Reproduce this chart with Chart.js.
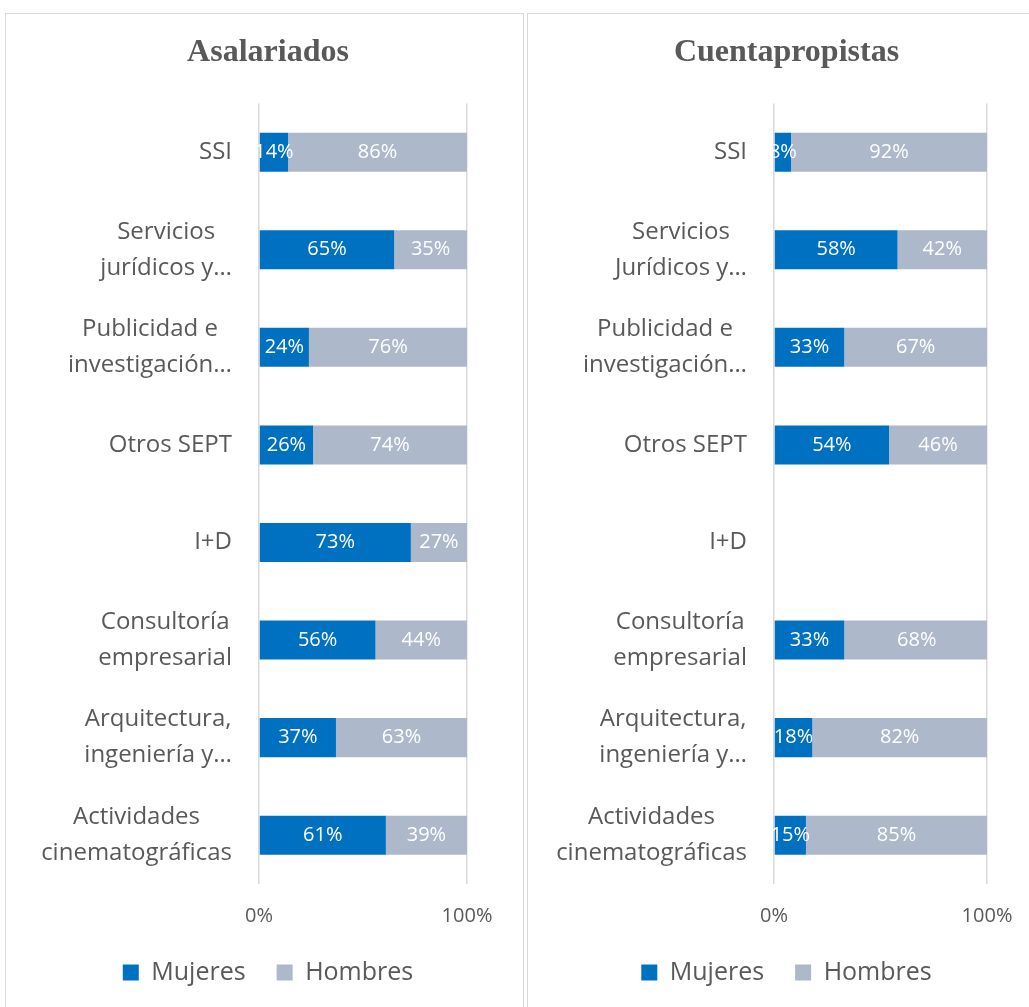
<!DOCTYPE html>
<html>
<head>
<meta charset="utf-8">
<script src="https://cdn.jsdelivr.net/npm/chart.js@4"></script>
<style>
  html, body { margin: 0; padding: 0; background: #fff; overflow: hidden; }
  body { width: 1029px; height: 1007px; position: relative; }
  .panel { position: absolute; top: 13px; width: 517px; height: 1010px; border: 1px solid #D9D9D9; }
  .panel canvas { position: absolute; left: 0; top: 0; }
</style>
</head>
<body>
<div class="panel" style="left:5px;"><canvas id="chartA" width="517" height="993"></canvas></div>
<div class="panel" style="left:527px;"><canvas id="chartC" width="517" height="993"></canvas></div>
<script>
let labelsA = [['SSI'], ['Servicios', 'jurídicos y…'], ['Publicidad e', 'investigación…'], ['Otros SEPT'], ['I+D'], ['Consultoría', 'empresarial'], ['Arquitectura,', 'ingeniería y…'], ['Actividades', 'cinematográficas']];
let labelsC = [['SSI'], ['Servicios', 'Jurídicos y…'], ['Publicidad e', 'investigación…'], ['Otros SEPT'], ['I+D'], ['Consultoría', 'empresarial'], ['Arquitectura,', 'ingeniería y…'], ['Actividades', 'cinematográficas']];
let mujeresA = [14, 65, 24, 26, 73, 56, 37, 61];
let hombresA = [86, 35, 76, 74, 27, 44, 63, 39];
let mujeresC = [8, 58, 33, 54, null, 33, 18, 15];
let hombresC = [92, 42, 67, 46, null, 68, 82, 85];
let xTicks = [0, 100];

Chart.defaults.font.family = "'Open Sans', sans-serif";
Chart.defaults.color = '#595959';

// white % labels centred on each bar segment
let barLabels = {
    id: 'barLabels',
    afterDatasetsDraw(chart) {
        let ctx = chart.ctx;
        ctx.save();
        ctx.font = "20px 'Open Sans'";
        ctx.fillStyle = '#ffffff';
        ctx.textAlign = 'center';
        ctx.textBaseline = 'middle';
        chart.data.datasets.forEach((ds, di) => {
            chart.getDatasetMeta(di).data.forEach((bar, i) => {
                let v = ds.data[i];
                if (v === null || v === undefined) return;
                ctx.fillText(v + '%', (bar.x + bar.base) / 2, bar.y);
            });
        });
        ctx.restore();
    }
};

// category labels: block right aligned, lines centred inside the block
let catLabels = {
    id: 'catLabels',
    afterDraw(chart) {
        let ctx = chart.ctx;
        let y = chart.scales.y;
        let right = chart.chartArea.left - 27;
        ctx.save();
        ctx.font = "24px 'Open Sans'";
        ctx.fillStyle = '#595959';
        ctx.textAlign = 'center';
        ctx.textBaseline = 'middle';
        chart.data.labels.forEach((lines, i) => {
            let w = Math.max(...lines.map(l => ctx.measureText(l).width));
            let cx = right - w / 2;
            let cy = y.getPixelForValue(i) - (lines.length - 1) * 36 / 2;
            lines.forEach((l, k) => ctx.fillText(l, cx, cy + k * 36));
        });
        ctx.restore();
    }
};

function makeChart(id, title, labels, muj, hom, padLeft, axisW, rightW) {
    return new Chart(document.getElementById(id).getContext('2d'), {
        type: 'bar',
        data: {
            labels: labels,
            datasets: [
                { label: 'Mujeres', data: muj, backgroundColor: '#0070C0', barPercentage: 0.8, categoryPercentage: 0.5 },
                { label: 'Hombres', data: hom, backgroundColor: '#ADB9CA', barPercentage: 0.8, categoryPercentage: 0.5 }
            ]
        },
        options: {
            indexAxis: 'y',
            responsive: false,
            animation: false,
            layout: { padding: { left: padLeft, right: 0, top: 0, bottom: 12 } },
            scales: {
                x: {
                    stacked: true,
                    min: 0,
                    max: 100,
                    afterBuildTicks: (s) => { s.ticks = xTicks.map(v => ({ value: v })); },
                    afterFit: (s) => { s.height = 45; },
                    ticks: { callback: (v) => v + '%', font: { size: 20 }, padding: 20, color: '#595959' },
                    grid: { color: '#D9D9D9', lineWidth: 1.5, drawTicks: false },
                    border: { display: false }
                },
                y: {
                    stacked: true,
                    ticks: { display: false },
                    grid: { display: false },
                    border: { display: false },
                    afterFit: (s) => { s.width = axisW; }
                },
                yRight: {
                    type: 'category',
                    position: 'right',
                    ticks: { display: false },
                    grid: { display: false },
                    border: { display: false },
                    afterFit: (s) => { s.width = rightW; }
                }
            },
            plugins: {
                title: {
                    display: true,
                    text: title,
                    color: '#595959',
                    font: { family: "'Liberation Serif', serif", size: 32, weight: 'bold' },
                    padding: { top: 20, bottom: 31 }
                },
                legend: {
                    position: 'bottom',
                    labels: { boxWidth: 16, boxHeight: 16, padding: 31, font: { size: 25 }, color: '#595959' }
                },
                tooltip: { enabled: false }
            }
        },
        plugins: [barLabels, catLabels]
    });
}

let chartA = makeChart('chartA', 'Asalariados', labelsA, mujeresA, hombresA, 7, 246, 56);
let chartC = makeChart('chartC', 'Cuentapropistas', labelsC, mujeresC, hombresC, 0, 246, 58);
</script>
</body>
</html>
